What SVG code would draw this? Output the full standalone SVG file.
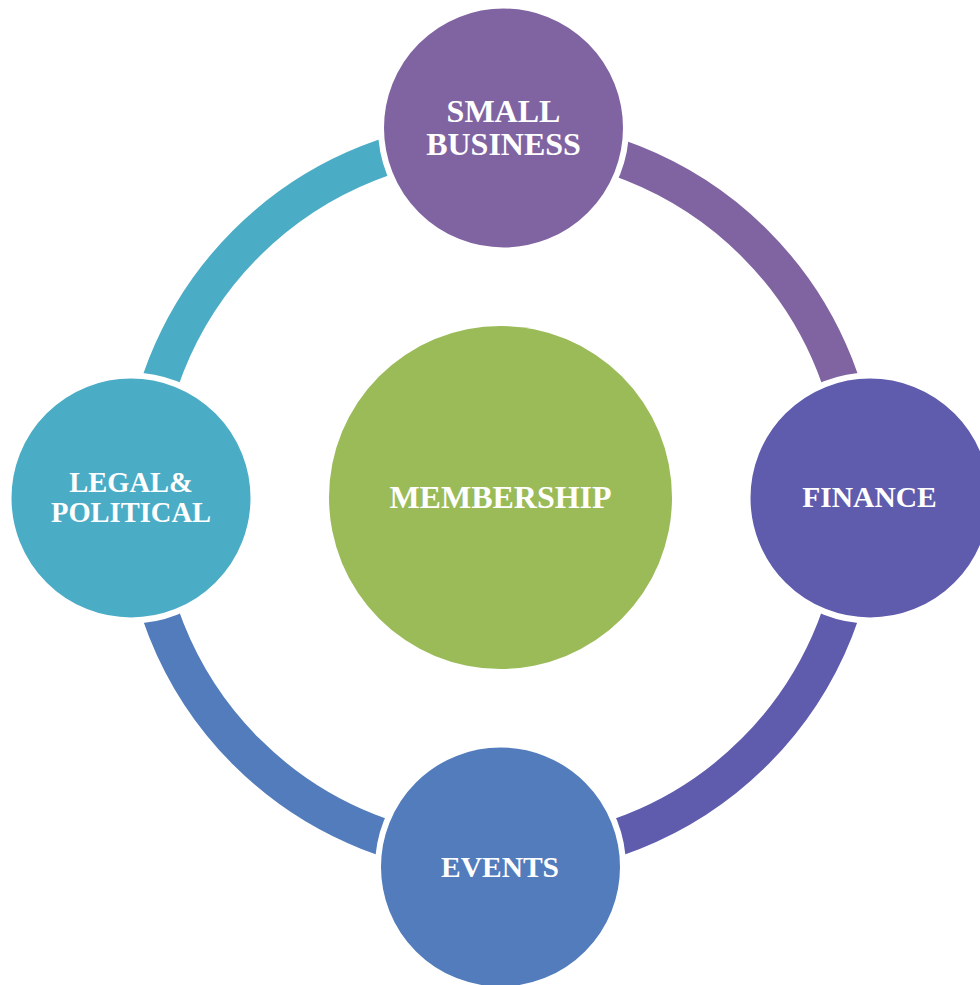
<svg xmlns="http://www.w3.org/2000/svg" width="980" height="985" viewBox="0 0 980 985">
  <style>
    .arc { fill: none; stroke-width: 37; stroke-linecap: butt; }
    .node { stroke: #FFFFFF; stroke-width: 6; }
    .lbl { font-family: "Liberation Serif", "Times New Roman", serif; font-weight: bold; fill: #FFFFFF; text-anchor: middle; }
  </style>
  <rect width="980" height="985" fill="#FFFFFF"/>
  <g id="connectors">
    <path class="arc" stroke="#4BACC6" d="M141,497.5 A359.5,359.5 0 0 1 500.5,138"/>
    <path class="arc" stroke="#8064A2" d="M500.5,138 A359.5,359.5 0 0 1 860,497.5"/>
    <path class="arc" stroke="#5F5BAD" d="M860,497.5 A359.5,359.5 0 0 1 500.5,857"/>
    <path class="arc" stroke="#527CBB" d="M500.5,857 A359.5,359.5 0 0 1 141,497.5"/>
  </g>
  <g id="membership">
    <circle cx="500.5" cy="497.5" r="171.5" fill="#9BBB59"/>
    <text class="lbl" x="500.5" y="508.3" font-size="32">MEMBERSHIP</text>
  </g>
  <g id="small-business">
    <circle class="node" cx="503.5" cy="128" r="122.5" fill="#8064A2"/>
    <text class="lbl" x="503.5" y="121.7" font-size="32">SMALL</text>
    <text class="lbl" x="503.5" y="155" font-size="32">BUSINESS</text>
  </g>
  <g id="finance">
    <circle class="node" cx="870" cy="498" r="122.5" fill="#5F5BAD"/>
    <text class="lbl" x="869.5" y="506.7" font-size="29.5">FINANCE</text>
  </g>
  <g id="events">
    <circle class="node" cx="500.5" cy="867" r="122.5" fill="#527CBB"/>
    <text class="lbl" x="500" y="876.7" font-size="29.5">EVENTS</text>
  </g>
  <g id="legal-political">
    <circle class="node" cx="131" cy="498" r="122.5" fill="#4BACC6"/>
    <text class="lbl" x="131" y="491.7" font-size="28.5">LEGAL&amp;</text>
    <text class="lbl" x="131" y="521.7" font-size="28.5">POLITICAL</text>
  </g>
</svg>
